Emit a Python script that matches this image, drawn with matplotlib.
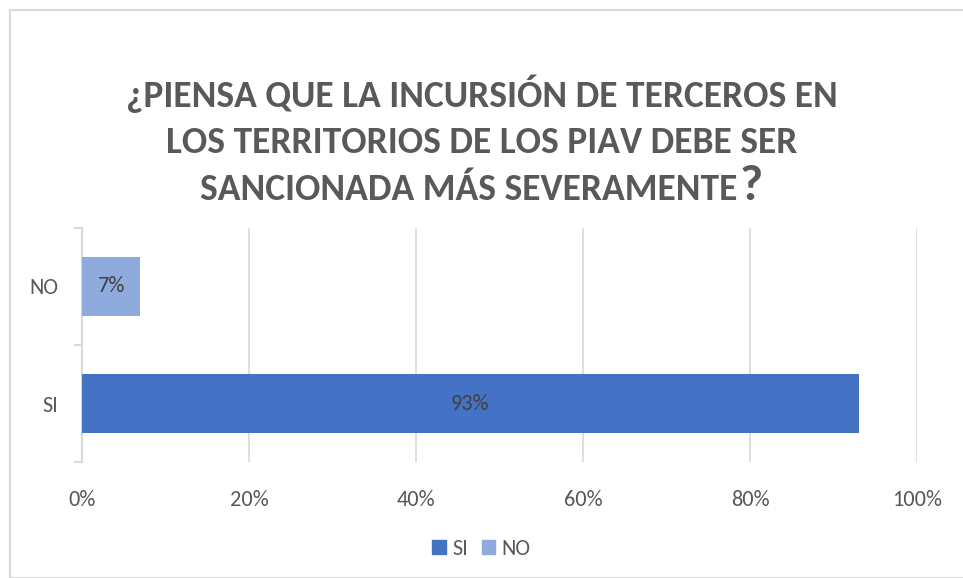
import matplotlib.pyplot as plt
from matplotlib.patches import Rectangle

categories = ['SI', 'NO']
values = [93, 7]
colors = ['#4472C4', '#8FAADC']
ticks = [0, 20, 40, 60, 80, 100]
title_lines = ['¿PIENSA QUE LA INCURSIÓN DE TERCEROS EN',
               'LOS TERRITORIOS DE LOS PIAV DEBE SER',
               'SANCIONADA MÁS SEVERAMENTE']

plt.rcParams['font.family'] = ['Carlito', 'DejaVu Sans']

fig = plt.figure(figsize=(9.63, 5.78), dpi=100)
# chart frame
fig.patches.append(Rectangle((10 / 963, 0), 1, 1 - 10 / 578, transform=fig.transFigure,
                             fill=False, edgecolor='#D9D9D9', linewidth=1.5))

ax = fig.add_axes([82 / 963, 1 - 462 / 578, (917 - 82) / 963, (462 - 228) / 578])

ax.barh(categories, values, height=0.5, color=colors, zorder=3)
for i, v in enumerate(values):
    ax.text(v / 2, i, f'{v}%', ha='center', va='center', fontsize=16, color='#404040', zorder=4)

ax.set_xlim(0, 100)
ax.set_ylim(-0.5, 1.5)
ax.set_xticks(ticks)
ax.set_xticklabels([f'{t}%' for t in ticks], fontsize=16, color='#595959')
ax.tick_params(axis='x', length=0, pad=20)
ax.set_yticks([-0.5, 0.5, 1.5], minor=False)
ax.set_yticks([0, 1], minor=True)
ax.set_yticklabels(['', '', ''])
ax.set_yticklabels(categories, minor=True, fontsize=16, color='#595959')
ax.tick_params(axis='y', which='major', length=6, color='#D9D9D9', width=1.5)
ax.tick_params(axis='y', which='minor', length=0, pad=17)
ax.grid(axis='x', color='#D9D9D9', linewidth=1.2, zorder=0)
for s in ['top', 'right', 'bottom']:
    ax.spines[s].set_visible(False)
ax.spines['left'].set_color('#D9D9D9')
ax.spines['left'].set_linewidth(1.5)

title_kw = dict(fontsize=27, fontweight='bold', color='#595959')
for k, line in enumerate(title_lines[:2]):
    fig.text(0.5, 1 - (107 + 46 * k) / 578, line, ha='center', va='baseline', **title_kw)

# last line with a larger question mark
renderer = fig.canvas.get_renderer()
y3 = 1 - 200 / 578
t3 = fig.text(0, y3, title_lines[2], ha='left', va='baseline', **title_kw)
q = fig.text(0, y3, '?', ha='left', va='baseline', fontsize=36, fontweight='bold', color='#595959')
w3 = t3.get_window_extent(renderer).width
wq = q.get_window_extent(renderer).width
x0 = (963 - (w3 + wq + 2)) / 2
t3.set_x(x0 / 963)
q.set_x((x0 + w3 + 2) / 963)

handles = [Rectangle((0, 0), 1, 1, color=c) for c in colors]
fig.legend(handles, categories, loc='center', bbox_to_anchor=(0.5, 1 - 549 / 578), ncol=2,
           frameon=False, fontsize=16, handlelength=0.6, handleheight=0.6, columnspacing=0.6,
           handletextpad=0.3, labelcolor='#595959')

fig.savefig('out.png', dpi=100)
